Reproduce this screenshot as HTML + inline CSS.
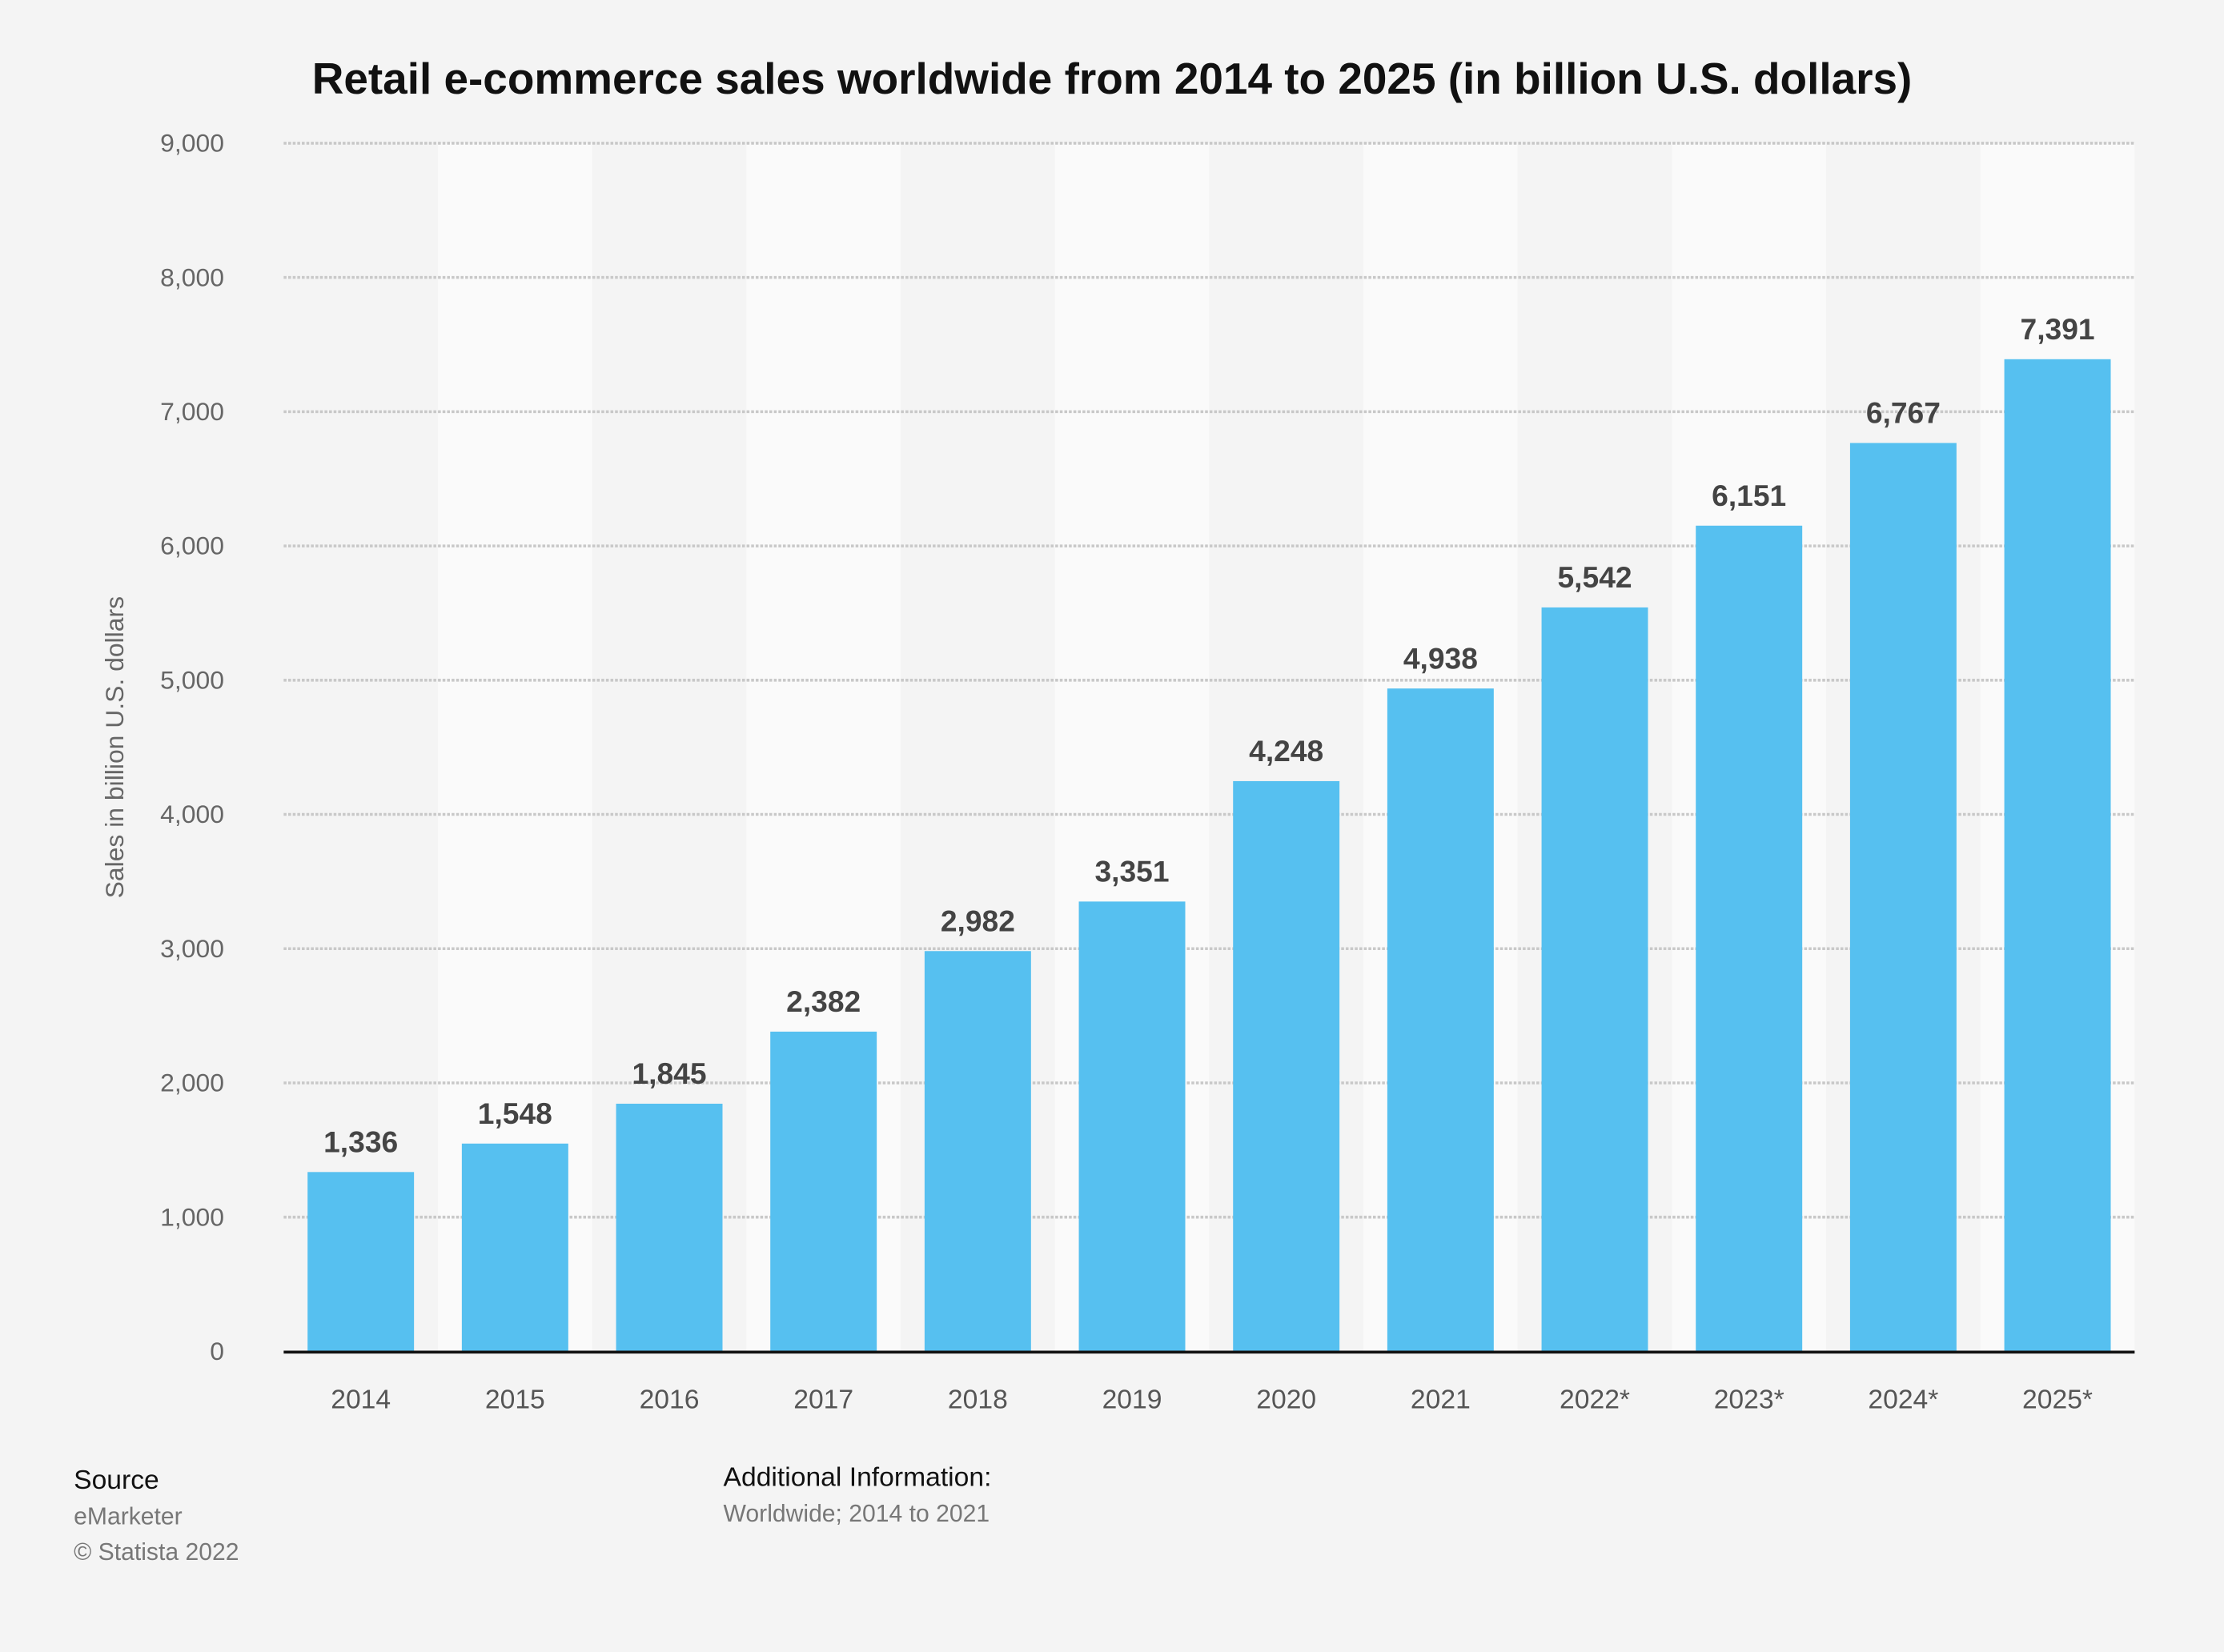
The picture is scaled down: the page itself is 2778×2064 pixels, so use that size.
<!DOCTYPE html>
<html><head><meta charset="utf-8"><style>
html,body{margin:0;padding:0;background:#f4f4f4;}
svg{display:block;font-family:"Liberation Sans",Arial,sans-serif;}
</style></head><body>
<svg id="chart" width="2778" height="2064" viewBox="0 0 1568 1165" preserveAspectRatio="none" xmlns="http://www.w3.org/2000/svg">
<rect x="0" y="0" width="1568" height="1165" fill="#f4f4f4"/>
<text x="784" y="66" text-anchor="middle" font-size="31" font-weight="bold" fill="#111">Retail e-commerce sales worldwide from 2014 to 2025 (in billion U.S. dollars)</text>
<g id="bands"></g>
<g id="grid"></g>
<g id="bars"></g>
<g id="xlabels"></g>
<line x1="200" y1="953.5" x2="1505" y2="953.5" stroke="#111" stroke-width="2"/>
<text transform="translate(87,527) rotate(-90)" text-anchor="middle" font-size="18" fill="#666">Sales in billion U.S. dollars</text>
<text x="52" y="1050" font-size="19" fill="#111">Source</text>
<text x="52" y="1075" font-size="17" fill="#777">eMarketer</text>
<text x="52" y="1100" font-size="17" fill="#777">© Statista 2022</text>
<text x="510" y="1048" font-size="19" fill="#111">Additional Information:</text>
<text x="510" y="1073" font-size="17" fill="#777">Worldwide; 2014 to 2021</text>
</svg>
<script>
const categories = ["2014","2015","2016","2017","2018","2019","2020","2021","2022*","2023*","2024*","2025*"];
const values = [1336,1548,1845,2382,2982,3351,4248,4938,5542,6151,6767,7391];
const valueLabels = ["1,336","1,548","1,845","2,382","2,982","3,351","4,248","4,938","5,542","6,151","6,767","7,391"];
const yTicks = [0,1000,2000,3000,4000,5000,6000,7000,8000,9000];
const yTickLabels = ["0","1,000","2,000","3,000","4,000","5,000","6,000","7,000","8,000","9,000"];

const NS = "http://www.w3.org/2000/svg";
const X0 = 200, X1 = 1505, Y0 = 953, Y1 = 101, YMAX = 9000;
const band = (X1 - X0) / categories.length;
const xPos = i => X0 + band * i;
const yPos = v => Y0 - (v / YMAX) * (Y0 - Y1);
function mk(tag, attrs, parent){const e=document.createElementNS(NS,tag);for(const k in attrs)e.setAttribute(k,attrs[k]);parent.appendChild(e);return e;}

const gBands = document.getElementById('bands');
categories.forEach((c,i)=>{
  const r = mk('rect',{x:xPos(i),y:Y1,width:band,height:Y0-Y1,fill:(i%2===1)?'#fafafa':'#f4f4f4'},gBands);
  
  
});
const gGrid = document.getElementById('grid');
yTicks.forEach((t,i)=>{
  if(t>0){
    const l = mk('line',{x1:X0,y1:yPos(t),x2:X1,y2:yPos(t),stroke:'#c8c8c8','stroke-width':2,'stroke-dasharray':'2,1.2'},gGrid);
    
    
  }
  const tx = mk('text',{x:158,y:yPos(t)+6,'text-anchor':'end','font-size':18,fill:'#666'},gGrid);
  tx.textContent = yTickLabels[i];
  
  
});
const gBars = document.getElementById('bars');
const bw = band*0.69;
values.forEach((v,i)=>{
  const cx = xPos(i)+band/2;
  const r = mk('rect',{x:cx-bw/2,y:yPos(v),width:bw,height:Y0-yPos(v),fill:'#56c0f0'},gBars);
  
  
  const t = mk('text',{x:cx,y:yPos(v)-14,'text-anchor':'middle','font-size':21,'font-weight':'bold',fill:'#444'},gBars);
  t.textContent = valueLabels[i];
  
  
});
const gX = document.getElementById('xlabels');
categories.forEach((c,i)=>{
  const t = mk('text',{x:xPos(i)+band/2,y:993,'text-anchor':'middle','font-size':19,fill:'#555'},gX);
  t.textContent = c;
  
  
});
</script>
</body></html>
